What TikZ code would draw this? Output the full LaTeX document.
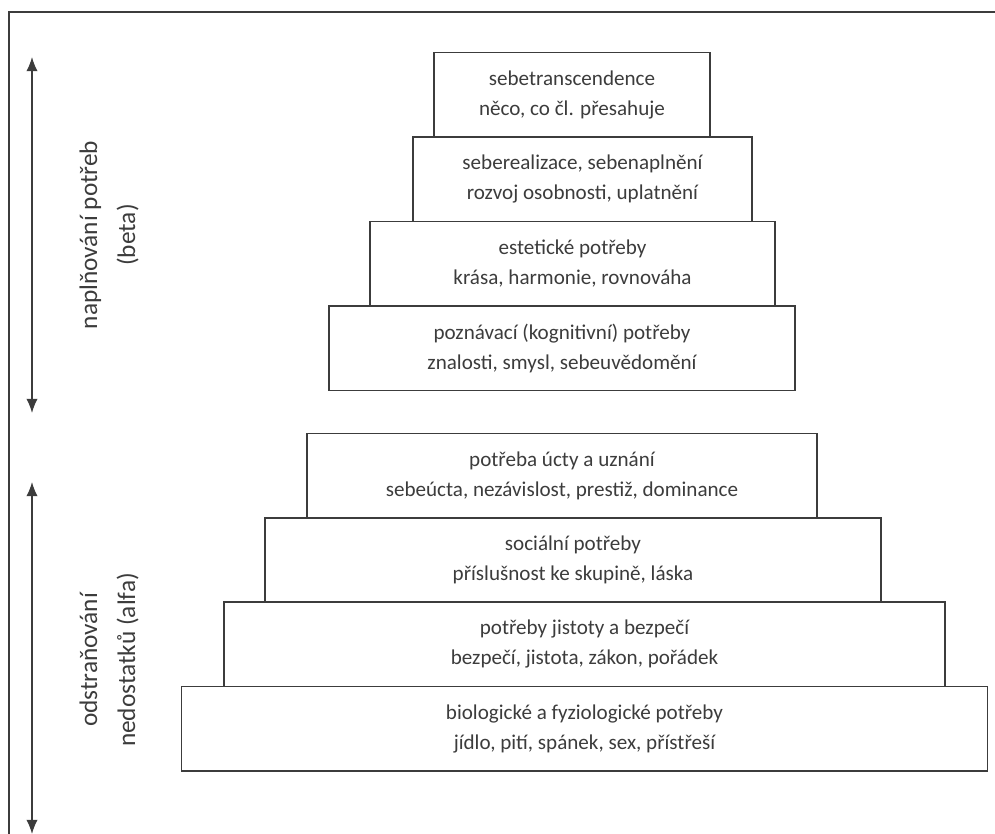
\documentclass[tikz,border=0pt]{standalone}
\usepackage{fontspec}
\setmainfont{Carlito}
\usepackage{tikz}
\usepackage{xcolor}
\usetikzlibrary{positioning,arrows.meta}
\definecolor{inkgray}{HTML}{3C3C3C}
\tikzset{
>={Latex[length=10pt,width=8pt]},
  level/.style={
    rectangle,
    draw=inkgray, line width=1pt,
    minimum height=2.11cm,
    inner sep=0pt, outer sep=0pt,
    text=inkgray,
    align=center,
    font=\fontsize{15}{21.3}\selectfont},
  side/.style={rotate=90, align=center, text=inkgray, font=\fontsize{18}{27}\selectfont},
  line/.style={draw=inkgray, line width=1pt, <->},
}

\begin{document}
\begin{tikzpicture}[node distance=0pt]
  \useasboundingbox (0,0) rectangle (24.875,-20.85);
  \draw[draw=inkgray, line width=1pt] (0.225,-20.85) |- (24.875,-0.3);

  % beta
  \node[level, minimum width=6.9cm] (level8) at (14.3,-2.375) {sebetranscendence\\něco, co čl. přesahuje};
  \node[level, minimum width=8.475cm, below=of level8, xshift=0.2625cm] (level7) {seberealizace, sebenaplnění\\rozvoj osobnosti, uplatnění};
  \node[level, minimum width=10.125cm, below=of level7, xshift=-0.25cm] (level6) {estetické potřeby\\krása, harmonie, rovnováha};
  \node[level, minimum width=11.65cm, below=of level6, xshift=-0.2625cm] (level5) {poznávací (kognitivní) potřeby\\znalosti, smysl, sebeuvědomění};
  % alfa
  \node[level, minimum width=12.75cm, below=1.075cm of level5] (level4) {potřeba úcty a uznání\\sebeúcta, nezávislost, prestiž, dominance};
  \node[level, minimum width=15.4cm, below=of level4, xshift=0.275cm] (level3) {sociální potřeby\\příslušnost ke skupině, láska};
  \node[level, minimum width=18.025cm, below=of level3, xshift=0.2875cm] (level2) {potřeby jistoty a bezpečí\\bezpečí, jistota, zákon, pořádek};
  \node[level, minimum width=20.15cm, below=of level2] (level1) {biologické a fyziologické potřeby\\jídlo, pití, spánek, sex, přístřeší};

  \node[side] (beta) at (2.725,-5.875) {naplňování potřeb\\(beta)};
  \node[side] (alfa) at (2.725,-16.5) {odstraňování\\nedostatků (alfa)};

  \coordinate (betatop) at (0.8,-1.425);
  \coordinate (betabot) at (0.8,-10.325);
  \coordinate (alfatop) at (0.8,-12.05);
  \coordinate (alfabot) at (0.8,-20.85);
  \path[line] (betatop) -- (betabot);
  \path[line] (alfatop) -- (alfabot);
\end{tikzpicture}
\end{document}
